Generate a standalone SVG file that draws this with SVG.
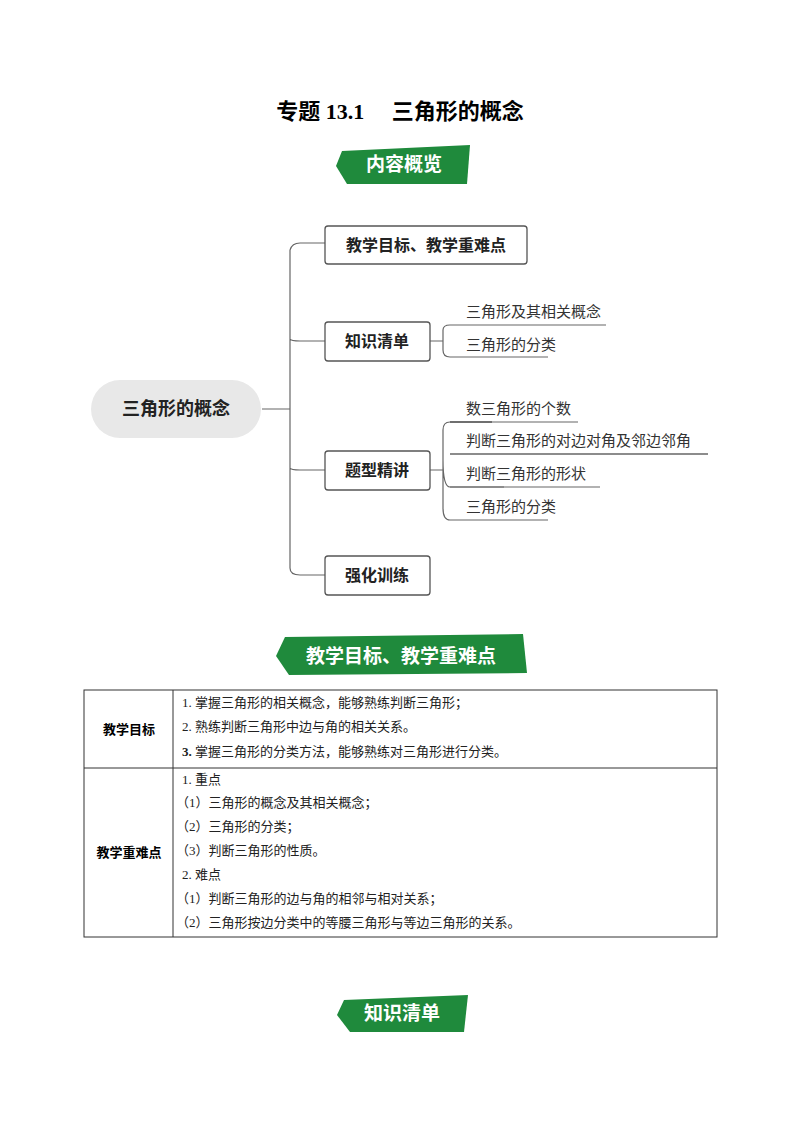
<svg xmlns="http://www.w3.org/2000/svg" width="800" height="1132" viewBox="0 0 800 1132">
<style>
.t{font-family:"Liberation Serif","Noto Sans CJK SC",serif}
.s{font-family:"Noto Sans CJK SC",sans-serif}
.bn{fill:#1f8a3c}
.bt{font-family:"Noto Sans CJK SC",sans-serif;font-weight:bold;fill:#fff;font-size:19px;text-anchor:middle}
.box{fill:#fff;stroke:#555;stroke-width:1.3}
.bx{font-family:"Noto Sans CJK SC",sans-serif;font-weight:bold;font-size:16px;fill:#222;text-anchor:middle}
.lf{font-family:"Noto Sans CJK SC",sans-serif;font-size:15px;fill:#333}
.ln{fill:none;stroke:#666;stroke-width:1.2}
.tb{font-family:"Liberation Serif","Noto Sans CJK SC",serif;font-size:13px;fill:#222}
</style>
<rect width="800" height="1132" fill="#fff"/>
<text class="t" x="400" y="119" font-size="22" font-weight="bold" text-anchor="middle">专题 13.1　 三角形的概念</text>
<g id="banner1"><polygon class="bn" points="342,151 470,145 467,184 347,184 336,166"/><text class="bt" x="404" y="171">内容概览</text></g>
<g id="connectors">
<path class="ln" d="M262,409 H290 M290,250 Q292,243 300,243 H325 M290,250 V568 Q290,575 300,575 H325 M290,339 Q291,341 300,341 H325 M290,468 Q291,470 300,470 H325"/>
<path class="ln" d="M430,341 H443 M443,330 Q443,325 450,325 H606 M443,330 V350 Q443,357 450,357 H548"/>
<path class="ln" d="M430,470 H443 M443,430 Q443,422 450,422 H492 M443,430 V508 Q443,520 450,520 H548 M450,454 H708 M443,460 Q443,487 450,487 H504 M492,422 H492"/>
<path class="ln" d="M450,422 H492 M450,454 H708"/>
<path class="ln" d="M450,422 H492 M450,422 H492"/>
</g>
<g id="root"><rect x="91" y="380" width="170" height="58" rx="29" fill="#e8e8e8"/><text class="bx" x="176" y="415" font-size="18" style="font-size:18px">三角形的概念</text></g>
<g id="n1"><rect class="box" x="325" y="226" width="202" height="38" rx="3"/><text class="bx" x="426" y="251">教学目标、教学重难点</text></g>
<g id="n2"><rect class="box" x="325" y="322" width="105" height="39" rx="3"/><text class="bx" x="377" y="347">知识清单</text></g>
<g id="n3"><rect class="box" x="325" y="451" width="105" height="39" rx="3"/><text class="bx" x="377" y="476">题型精讲</text></g>
<g id="n4"><rect class="box" x="325" y="556" width="105" height="39" rx="3"/><text class="bx" x="377" y="581">强化训练</text></g>
<g id="leaves">
<text class="lf" x="466" y="317">三角形及其相关概念</text>
<text class="lf" x="466" y="350">三角形的分类</text>
<text class="lf" x="466" y="414">数三角形的个数</text>
<text class="lf" x="466" y="446">判断三角形的对边对角及邻边邻角</text>
<text class="lf" x="466" y="479">判断三角形的形状</text>
<text class="lf" x="466" y="512">三角形的分类</text>
</g>
<g id="leaflines"><path class="ln" d="M450,422 H492 M450,422 H578"/><path class="ln" d="M450,487 H504 M450,487 H600"/></g>
<g id="banner2"><polygon class="bn" points="285,637 523,634 527,673 289,675 276,656"/><text class="bt" x="401" y="663">教学目标、教学重难点</text></g>
<g id="table" fill="none" stroke="#333" stroke-width="1">
<rect x="84" y="690" width="633" height="247"/><line x1="173" y1="690" x2="173" y2="937"/><line x1="84" y1="768" x2="717" y2="768"/>
</g>
<g id="tabletext">
<text class="s" x="129" y="734" font-size="13" font-weight="bold" text-anchor="middle">教学目标</text>
<text class="s" x="129" y="857" font-size="13" font-weight="bold" text-anchor="middle">教学重难点</text>
<text class="tb" x="182" y="707">1. 掌握三角形的相关概念，能够熟练判断三角形；</text>
<text class="tb" x="182" y="731">2. 熟练判断三角形中边与角的相关关系。</text>
<text class="tb" x="182" y="756"><tspan font-weight="bold">3.</tspan> 掌握三角形的分类方法，能够熟练对三角形进行分类。</text>
<text class="tb" x="182" y="784">1. 重点</text>
<text class="tb" x="176" y="807">（1）三角形的概念及其相关概念；</text>
<text class="tb" x="176" y="831">（2）三角形的分类；</text>
<text class="tb" x="176" y="855">（3）判断三角形的性质。</text>
<text class="tb" x="182" y="879">2. 难点</text>
<text class="tb" x="176" y="903">（1）判断三角形的边与角的相邻与相对关系；</text>
<text class="tb" x="176" y="927">（2）三角形按边分类中的等腰三角形与等边三角形的关系。</text>
</g>
<g id="banner3"><polygon class="bn" points="344,1000 468,995 464,1032 350,1032 337,1015"/><text class="bt" x="402" y="1020">知识清单</text></g>
</svg>
